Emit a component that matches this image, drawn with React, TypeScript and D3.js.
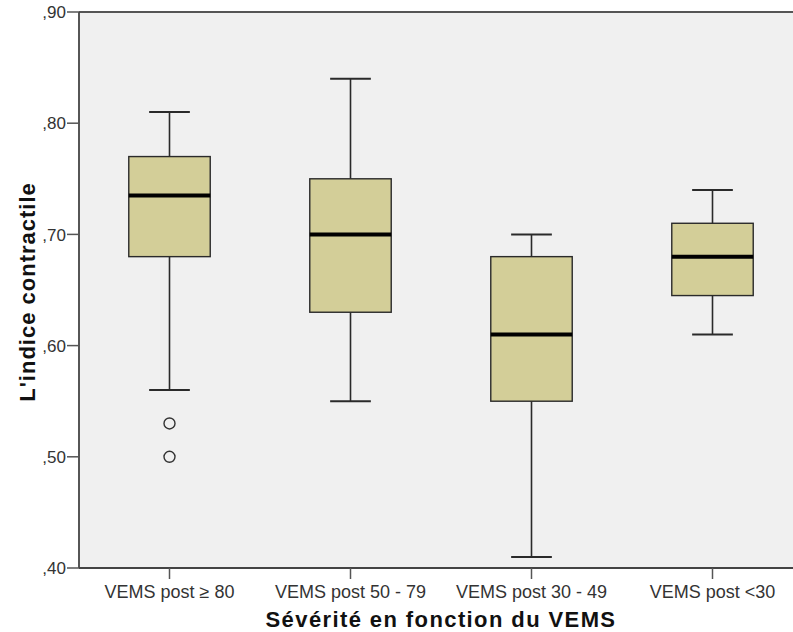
import React from "react";
import * as d3 from "d3";

const categories = ["VEMS post \u2265 80", "VEMS post 50 - 79", "VEMS post 30 - 49", "VEMS post <30"];
const whiskerLow = [0.56, 0.55, 0.41, 0.61];
const q1 = [0.68, 0.63, 0.55, 0.645];
const medians = [0.735, 0.70, 0.61, 0.68];
const q3 = [0.77, 0.75, 0.68, 0.71];
const whiskerHigh = [0.81, 0.84, 0.70, 0.74];
const outliers: number[][] = [[0.53, 0.50], [], [], []];
const yTicks = [0.4, 0.5, 0.6, 0.7, 0.8, 0.9];
const yTickLabels = [",40", ",50", ",60", ",70", ",80", ",90"];

export default function App() {
  const W = 793, H = 632;
  const left = 79, right = 803, top = 12, bottom = 568;
  const x = d3.scaleBand<string>().domain(categories).range([left, right]).paddingInner(0).paddingOuter(0);
  const y = d3.scaleLinear().domain([0.4, 0.9]).range([bottom, top]);
  const bw = x.bandwidth();
  const boxW = bw * 0.45;
  const capW = boxW * 0.5;
  const font = "'Liberation Sans', Arial, sans-serif";
  return (
    <svg width={W} height={H} style={{ position: "absolute", left: 0, top: 0, background: "#fff" }}>
      <rect x={left} y={top} width={right - left} height={bottom - top} fill="#f0f0f0" />
      {categories.map((c, i) => {
        const cx = x(c)! + bw / 2;
        return (
          <g key={c}>
            <line x1={cx} x2={cx} y1={y(whiskerHigh[i])} y2={y(q3[i])} stroke="#2a2a2a" strokeWidth={1.6} />
            <line x1={cx} x2={cx} y1={y(q1[i])} y2={y(whiskerLow[i])} stroke="#2a2a2a" strokeWidth={1.6} />
            <line x1={cx - capW / 2} x2={cx + capW / 2} y1={y(whiskerHigh[i])} y2={y(whiskerHigh[i])} stroke="#2a2a2a" strokeWidth={2} />
            <line x1={cx - capW / 2} x2={cx + capW / 2} y1={y(whiskerLow[i])} y2={y(whiskerLow[i])} stroke="#2a2a2a" strokeWidth={2} />
            <rect x={cx - boxW / 2} y={y(q3[i])} width={boxW} height={y(q1[i]) - y(q3[i])} fill="#d3ce98" stroke="#2a2a2a" strokeWidth={1.4} />
            <line x1={cx - boxW / 2} x2={cx + boxW / 2} y1={y(medians[i])} y2={y(medians[i])} stroke="#000" strokeWidth={4} />
            {outliers[i].map((v, j) => (
              <circle key={j} cx={cx} cy={y(v)} r={5.5} fill="none" stroke="#333" strokeWidth={1.4} />
            ))}
          </g>
        );
      })}
      <line x1={left} x2={right} y1={top} y2={top} stroke="#555" strokeWidth={1.8} />
      <line x1={left} x2={right} y1={bottom} y2={bottom} stroke="#444" strokeWidth={1.8} />
      <line x1={left} x2={left} y1={top} y2={bottom} stroke="#444" strokeWidth={1.8} />
      {yTicks.map((t, i) => (
        <g key={t}>
          <line x1={left - 12} x2={left} y1={y(t)} y2={y(t)} stroke="#555" strokeWidth={1.5} />
          <text x={left - 13} y={y(t)} dy="0.36em" textAnchor="end" fontFamily={font} fontSize={17} fill="#333">{yTickLabels[i]}</text>
        </g>
      ))}
      {categories.map((c) => {
        const cx = x(c)! + bw / 2;
        return (
          <g key={c}>
            <line x1={cx} x2={cx} y1={bottom} y2={bottom + 11} stroke="#555" strokeWidth={1.5} />
            <text x={cx} y={598} textAnchor="middle" fontFamily={font} fontSize={18} fill="#333">{c}</text>
          </g>
        );
      })}
      <text x={(left + right) / 2} y={627} textAnchor="middle" fontFamily={font} fontSize={22} fontWeight="bold" letterSpacing={1.4} fill="#111">Sévérité en fonction du VEMS</text>
      <text transform={`translate(35, 292) rotate(-90)`} textAnchor="middle" fontFamily={font} fontSize={22} fontWeight="bold" letterSpacing={1} fill="#111">L'indice contractile</text>
    </svg>
  );
}
